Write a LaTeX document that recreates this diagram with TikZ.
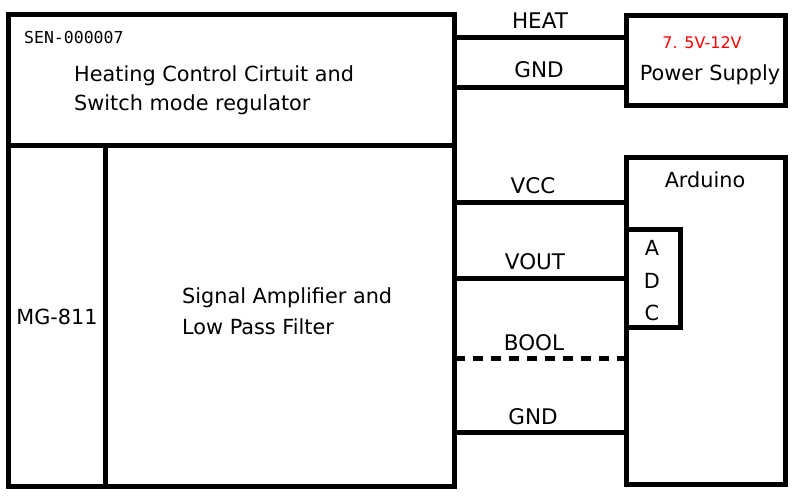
\documentclass[tikz,border=0pt]{standalone}
\usepackage{fontspec}
\setmainfont{DejaVu Sans}
\newfontfamily\monofnt{DejaVu Sans Mono}
\begin{document}
\begin{tikzpicture}[x=1pt,y=-1pt,
  box/.style={draw=black,line width=5pt,rectangle,inner sep=0pt,outer sep=0pt},
  wire/.style={draw=black,line width=5pt},
  lbl/.style={inner sep=0pt,font=\fontsize{20.8}{24}\selectfont},
  wlbl/.style={inner sep=0pt,font=\fontsize{21.5}{24}\selectfont}]
\useasboundingbox[fill=white] (0,0) rectangle (801,496);
% boxes
\node[box,minimum width=446pt,minimum height=131pt] (top) at (231.5,79.5) {};
\node[box,minimum width=96.5pt,minimum height=341pt] (mg) at (56.75,315.5) {};
\node[box,minimum width=349.5pt,minimum height=341pt] (sig) at (279.75,315.5) {};
\node[box,minimum width=159pt,minimum height=90pt] (ps) at (705.5,60) {};
\node[box,minimum width=159pt,minimum height=327pt] (ard) at (705.5,320.5) {};
\node[box,minimum width=54pt,minimum height=98pt] (adc) at (653,278) {};
% texts in boxes
\node[inner sep=0pt,anchor=west,font=\monofnt\fontsize{16.5}{18}\selectfont] (sen) at (24,37) {SEN-000007};
\node[lbl,anchor=west] (heat1) at (74,76) {Heating Control Cirtuit and};
\node[lbl,anchor=west] (heat2) at (74,105) {Switch mode regulator};
\node[lbl] (mgt) at (57,317) {MG-811};
\node[lbl,anchor=west] (sig1) at (182,298) {Signal Amplifier and};
\node[lbl,anchor=west] (sig2) at (182,327) {Low Pass Filter};
\node[inner sep=0pt,text=red,font=\fontsize{16}{18}\selectfont] (volt) at (702,43) {7. 5V-12V};
\node[lbl] (pst) at (710,75) {Power Supply};
\node[lbl] (ardt) at (705,180) {Arduino};
\node[lbl] (a) at (652,248) {A};
\node[lbl] (d) at (652,281) {D};
\node[lbl] (c) at (652,313) {C};
% wires
\coordinate (w1) at (454.5,37.5);
\coordinate (w2) at (454.5,87);
\coordinate (w3) at (454.5,202);
\coordinate (w4) at (454.5,278);
\coordinate (w5) at (454.5,358);
\coordinate (w6) at (454.5,432);
\draw[wire] (w1) -- (w1 -| ps.west);
\draw[wire] (w2) -- (w2 -| ps.west);
\draw[wire] (w3) -- (w3 -| ard.west);
\draw[wire] (w4) -- (w4 -| ard.west);
\draw[wire,dash pattern=on 10pt off 8pt] (w5) -- (w5 -| ard.west);
\draw[wire] (w6) -- (w6 -| ard.west);
% wire labels
\node[wlbl] (lheat) at (540,21) {HEAT};
\node[wlbl] (lgnd1) at (539,70) {GND};
\node[wlbl] (lvcc) at (533,186) {VCC};
\node[wlbl] (lvout) at (535,262) {VOUT};
\node[wlbl] (lbool) at (534,343) {BOOL};
\node[wlbl] (lgnd2) at (533,417) {GND};
\end{tikzpicture}
\end{document}
